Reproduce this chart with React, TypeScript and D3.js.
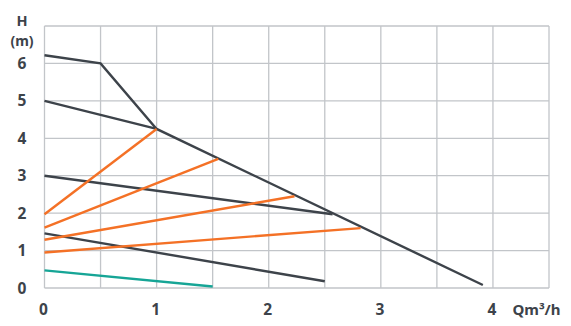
import React from "react";
import * as d3 from "d3";

const xTicks = [0, 1, 2, 3, 4];
const yTicks = [0, 1, 2, 3, 4, 5, 6];
const xGrid = [0, 0.5, 1, 1.5, 2, 2.5, 3, 3.5, 4, 4.5];
const yGrid = [0, 1, 2, 3, 4, 5, 6, 7];

type Pt = [number, number];
const pumpCurves: Pt[][] = [
  [[0, 6.22], [0.5, 6.0], [1, 4.25], [3.91, 0.08]],
  [[0, 5.0], [1, 4.25]],
  [[0, 3.0], [2.57, 1.97]],
  [[0, 1.46], [2.5, 0.18]],
];
const systemCurves: Pt[][] = [
  [[0, 1.97], [1, 4.25]],
  [[0, 1.61], [1.55, 3.45]],
  [[0, 1.29], [2.23, 2.45]],
  [[0, 0.95], [2.82, 1.6]],
];
const lowCurve: Pt[][] = [[[0, 0.47], [1.5, 0.04]]];

const W = 571, H = 326;
const left = 44.5, right = 549, top = 26, bottom = 288;

export default function App() {
  const x = d3.scaleLinear().domain([0, 4.5]).range([left, right]);
  const y = d3.scaleLinear().domain([0, 7]).range([bottom, top]);
  const line = d3.line<Pt>().x(d => x(d[0])).y(d => y(d[1]));
  const dark = "#3d434a";
  const orange = "#f47126";
  const teal = "#16a596";
  const grid = "#c2c5c9";
  const font = "'Noto Sans', sans-serif";
  return (
    <svg width={W} height={H} style={{ position: "absolute", left: 0, top: 0, background: "#fff" }}>
      <g>
        {xGrid.map(v => (
          <line key={"x" + v} x1={x(v)} x2={x(v)} y1={top} y2={bottom} stroke={grid} strokeWidth={1.3} />
        ))}
        {yGrid.map(v => (
          <line key={"y" + v} x1={left} x2={right} y1={y(v)} y2={y(v)} stroke={grid} strokeWidth={1.3} />
        ))}
      </g>
      <g fill="none" strokeWidth={2.4} strokeLinejoin="miter">
        {pumpCurves.map((c, i) => <path key={"p" + i} d={line(c) || ""} stroke={dark} />)}
        {systemCurves.map((c, i) => <path key={"s" + i} d={line(c) || ""} stroke={orange} />)}
        {lowCurve.map((c, i) => <path key={"l" + i} d={line(c) || ""} stroke={teal} />)}
      </g>
      <g fontFamily={font} fontWeight="bold" fill={dark} fontSize={15.5}>
        {yTicks.map(v => (
          <text key={"yt" + v} x={22} y={y(v)} dy="0.36em" textAnchor="middle">{v}</text>
        ))}
        {xTicks.map(v => (
          <text key={"xt" + v} x={x(v) - 1} y={309.5} dy="0.36em" textAnchor="middle">{v}</text>
        ))}
        <text x={22} y={26} textAnchor="middle" fontSize={14.5}>H</text>
        <text x={22} y={45.5} textAnchor="middle" fontSize={14}>(m)</text>
        <text x={536.5} y={309.5} dy="0.36em" textAnchor="middle" fontSize={15}>Qm³/h</text>
      </g>
    </svg>
  );
}
